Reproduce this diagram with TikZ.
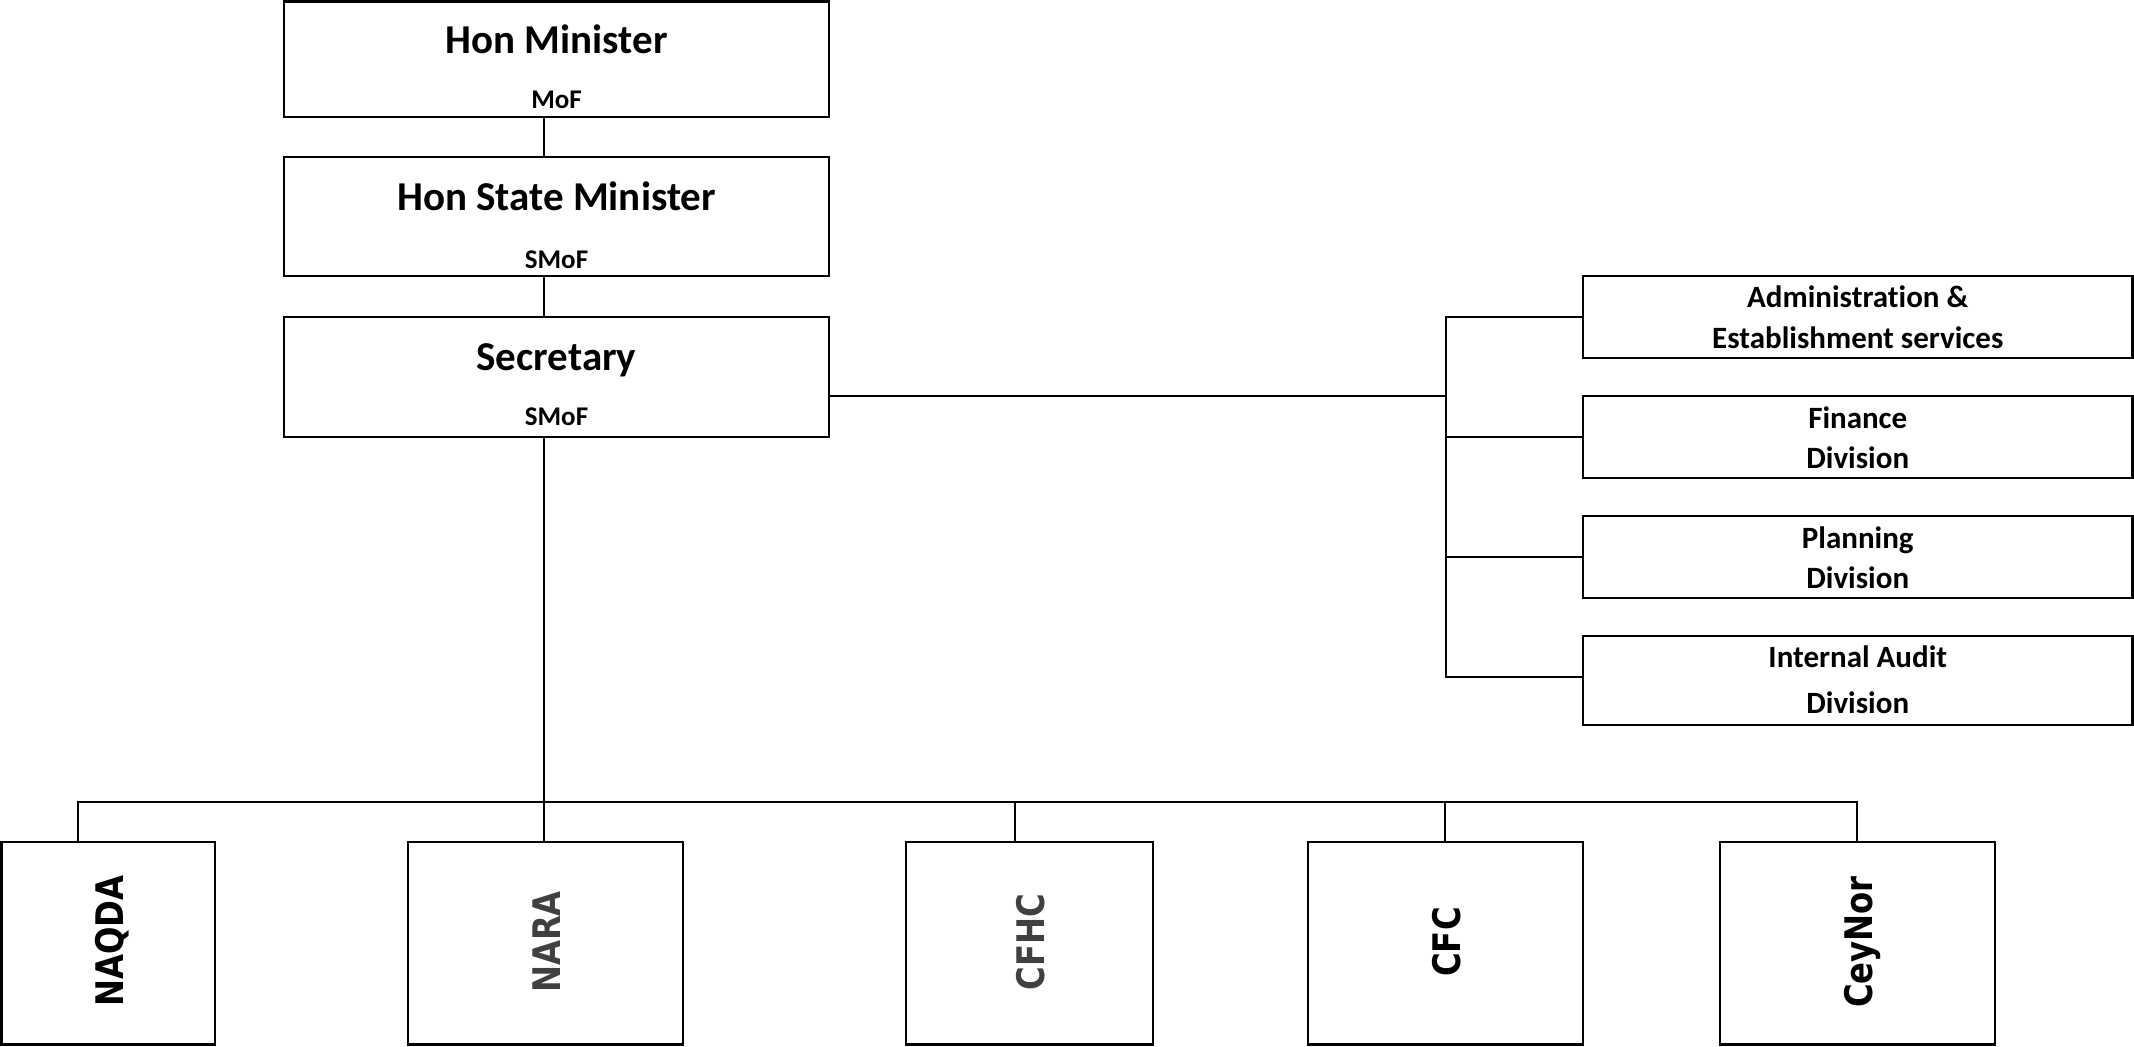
\documentclass[tikz,border=0pt]{standalone}
\usepackage{fontspec}
\setmainfont{Carlito}[Ligatures=NoCommon]
\newfontfamily\orgvfont{DejaVu Sans Bold}
\definecolor{dgray}{HTML}{404040}
\begin{document}
\begin{tikzpicture}[x=0.5pt,y=-0.5pt,
  box/.style={draw=black, line width=1.3pt, rectangle, inner sep=0pt, outer sep=0pt},
  conn/.style={draw=black, line width=1pt},
  ttl/.style={inner sep=0pt, anchor=base, font=\fontsize{20.5pt}{24pt}\selectfont\bfseries},
  sub/.style={inner sep=0pt, anchor=base, font=\fontsize{13.5pt}{16pt}\selectfont\bfseries},
  rtx/.style={inner sep=0pt, anchor=base, font=\fontsize{15.5pt}{18pt}\selectfont\bfseries},
  vtx/.style={inner sep=0pt, anchor=base, rotate=90, font=\orgvfont\fontsize{19pt}{22pt}\selectfont},
]
\useasboundingbox (0,0) rectangle (2134,1046);

% top column
\node[box, minimum width=272.5pt, minimum height=57.75pt] (hm) at (556.5,59.25) {};
\node[box, minimum width=272.5pt, minimum height=59.5pt] (sm) at (556.5,216.5) {};
\node[box, minimum width=272.5pt, minimum height=60pt] (sec) at (556.5,377) {};
\node[ttl] (hmt) at (556.5,53) {Hon Minister};
\node[sub] (hms) at (556.5,108) {MoF};
\node[ttl] (smt) at (556.5,210) {Hon State Minister};
\node[sub] (sms) at (556.5,268) {SMoF};
\node[ttl] (sect) at (556.5,370) {Secretary};
\node[sub] (secs) at (556.5,425) {SMoF};

% right column
\node[box, minimum width=274.75pt, minimum height=41pt] (ad) at (1857.75,317) {};
\node[box, minimum width=274.75pt, minimum height=41pt] (fi) at (1857.75,437) {};
\node[box, minimum width=274.75pt, minimum height=41pt] (pl) at (1857.75,557) {};
\node[box, minimum width=274.75pt, minimum height=44.5pt] (ia) at (1857.75,680.5) {};
\node[rtx] (adt1) at (1857.75,307) {Administration \&};
\node[rtx] (adt2) at (1857.75,348) {Establishment services};
\node[rtx] (fit1) at (1857.75,428) {Finance};
\node[rtx] (fit2) at (1857.75,468) {Division};
\node[rtx] (plt1) at (1857.75,548) {Planning};
\node[rtx] (plt2) at (1857.75,588) {Division};
\node[rtx] (iat1) at (1857.75,667) {Internal Audit};
\node[rtx] (iat2) at (1857.75,713) {Division};

% bottom row
\node[box, minimum width=106.75pt, minimum height=101.25pt] (naqda) at (108.25,943.25) {};
\node[box, minimum width=137.5pt, minimum height=101.25pt] (nara) at (545.5,943.25) {};
\node[box, minimum width=123.5pt, minimum height=101.25pt] (cfhc) at (1029.5,943.25) {};
\node[box, minimum width=137.5pt, minimum height=101.25pt] (cfc) at (1445.5,943.25) {};
\node[box, minimum width=137.5pt, minimum height=101.25pt] (ceynor) at (1857.5,943.25) {};
\node[vtx] (naqdat) at (123,941) {\scalebox{0.85}[1]{NAQDA}};
\node[vtx, text=dgray] (narat) at (560,942) {\scalebox{0.85}[1]{NARA}};
\node[vtx, text=dgray] (cfhct) at (1044,942) {\scalebox{0.85}[1]{CFHC}};
\node[vtx] (cfct) at (1460,942) {\scalebox{0.85}[1]{CFC}};
\node[vtx] (ceynort) at (1872,942) {\scalebox{0.85}[1]{CeyNor}};

% connector coordinates
\coordinate (cx) at (544,0);
\coordinate (rx) at (1446,0);
\coordinate (ry) at (0,396);
\coordinate (iay) at (0,677);
\coordinate (bar) at (0,802);
\coordinate (naqx) at (78,0);
\coordinate (narx) at (544,0);
\coordinate (cfhx) at (1015,0);
\coordinate (cfcx) at (1445,0);
\coordinate (ceyx) at (1857,0);

% vertical chain
\draw[conn] (hm.south -| cx) -- (sm.north -| cx);
\draw[conn] (sm.south -| cx) -- (sec.north -| cx);
\draw[conn] (sec.south -| cx) -- (cx |- bar);

% right branch
\draw[conn] (sec.east |- ry) -- (rx |- ry);
\draw[conn] (ad.west) -- (rx |- ad.west) -- (rx |- iay) -- (ia.west |- iay);
\draw[conn] (fi.west) -- (rx |- fi.west);
\draw[conn] (pl.west) -- (rx |- pl.west);

% bottom bus
\draw[conn] (naqda.north -| naqx) -- (naqx |- bar) -- (ceyx |- bar) -- (ceynor.north -| ceyx);
\draw[conn] (narx |- bar) -- (nara.north -| narx);
\draw[conn] (cfhx |- bar) -- (cfhc.north -| cfhx);
\draw[conn] (cfcx |- bar) -- (cfc.north -| cfcx);
\end{tikzpicture}
\end{document}
